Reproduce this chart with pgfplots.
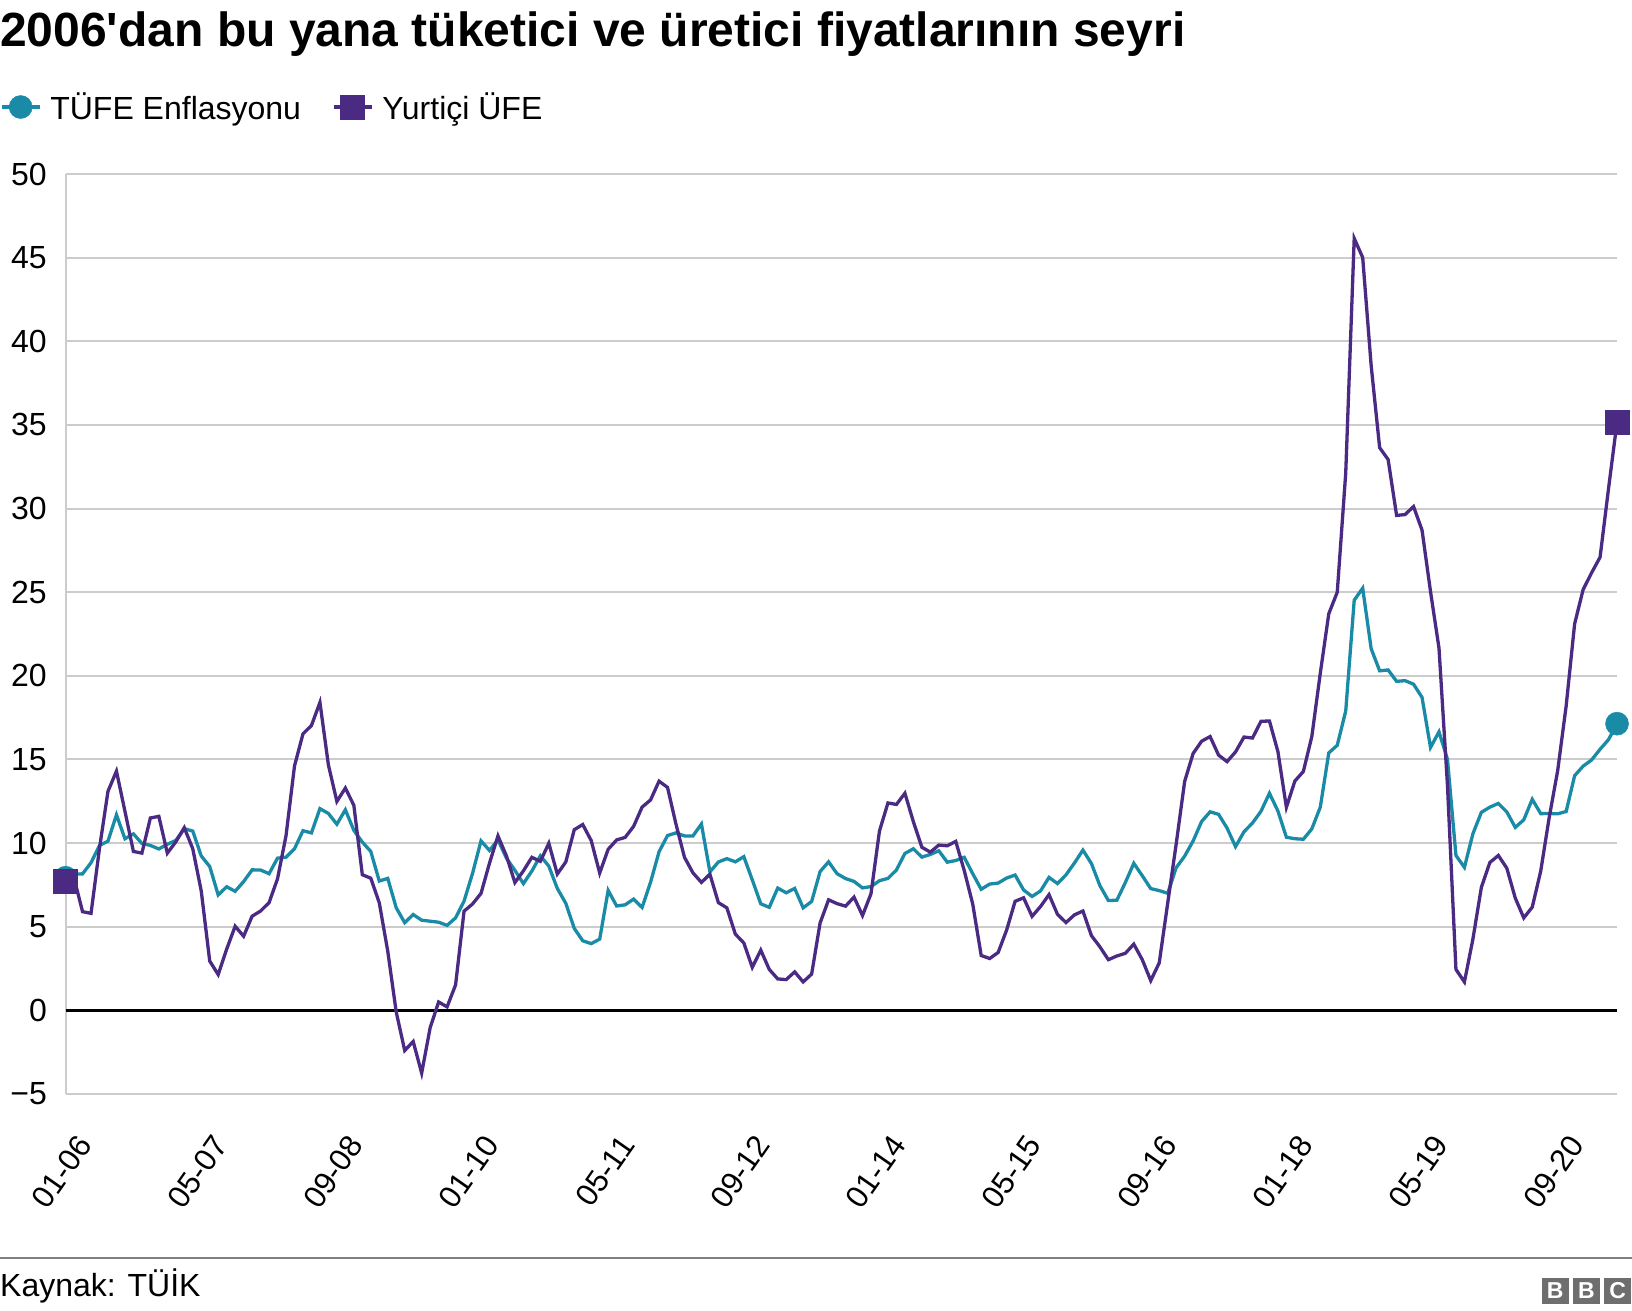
\documentclass[border=0pt]{standalone}
\usepackage{fontspec}
\setmainfont{Liberation Sans}[Ligatures=TeXOff]
\usepackage{pgfplots}
\usepackage{pgfplotstable}
\pgfplotsset{compat=1.18}
\definecolor{tufe}{HTML}{1A8BA6}
\definecolor{ufe}{HTML}{4B2A83}
\definecolor{gridc}{HTML}{CCCCCC}
\definecolor{footc}{HTML}{808080}
\definecolor{bbcg}{HTML}{6E6E6E}
% TUFE annual %, monthly 01-2006 ... 04-2021
\pgfplotstableread[header=false,row sep=\\]{
7.93\\ 8.15\\ 8.16\\ 8.83\\ 9.86\\ 10.12\\ 11.69\\ 10.26\\ 10.55\\ 9.98\\ 9.86\\ 9.65\\
9.93\\ 10.16\\ 10.86\\ 10.72\\ 9.23\\ 8.60\\ 6.90\\ 7.39\\ 7.12\\ 7.70\\ 8.40\\ 8.39\\
8.17\\ 9.10\\ 9.15\\ 9.66\\ 10.74\\ 10.61\\ 12.06\\ 11.77\\ 11.13\\ 11.99\\ 10.76\\ 10.06\\
9.50\\ 7.73\\ 7.89\\ 6.13\\ 5.24\\ 5.73\\ 5.39\\ 5.33\\ 5.27\\ 5.08\\ 5.53\\ 6.53\\
8.19\\ 10.13\\ 9.56\\ 10.19\\ 9.10\\ 8.37\\ 7.58\\ 8.33\\ 9.24\\ 8.62\\ 7.29\\ 6.40\\
4.90\\ 4.16\\ 3.99\\ 4.26\\ 7.17\\ 6.24\\ 6.31\\ 6.65\\ 6.15\\ 7.66\\ 9.48\\ 10.45\\
10.61\\ 10.43\\ 10.43\\ 11.14\\ 8.28\\ 8.87\\ 9.07\\ 8.88\\ 9.19\\ 7.80\\ 6.37\\ 6.16\\
7.31\\ 7.03\\ 7.29\\ 6.13\\ 6.51\\ 8.30\\ 8.88\\ 8.17\\ 7.88\\ 7.71\\ 7.32\\ 7.40\\
7.75\\ 7.89\\ 8.39\\ 9.38\\ 9.66\\ 9.16\\ 9.32\\ 9.54\\ 8.86\\ 8.96\\ 9.15\\ 8.17\\
7.24\\ 7.55\\ 7.61\\ 7.91\\ 8.09\\ 7.20\\ 6.81\\ 7.14\\ 7.95\\ 7.58\\ 8.10\\ 8.81\\
9.58\\ 8.78\\ 7.46\\ 6.57\\ 6.58\\ 7.64\\ 8.79\\ 8.05\\ 7.28\\ 7.16\\ 7.00\\ 8.53\\
9.22\\ 10.13\\ 11.29\\ 11.87\\ 11.72\\ 10.90\\ 9.79\\ 10.68\\ 11.20\\ 11.90\\ 12.98\\ 11.92\\
10.35\\ 10.26\\ 10.23\\ 10.85\\ 12.15\\ 15.39\\ 15.85\\ 17.90\\ 24.52\\ 25.24\\ 21.62\\ 20.30\\
20.35\\ 19.67\\ 19.71\\ 19.50\\ 18.71\\ 15.72\\ 16.65\\ 15.01\\ 9.26\\ 8.55\\ 10.56\\ 11.84\\
12.15\\ 12.37\\ 11.86\\ 10.94\\ 11.39\\ 12.62\\ 11.76\\ 11.77\\ 11.75\\ 11.89\\ 14.03\\ 14.60\\
14.97\\ 15.61\\ 16.19\\ 17.14\\
}\tufedata
% Yurtici UFE annual %
\pgfplotstableread[header=false,row sep=\\]{
7.70\\ 7.90\\ 5.90\\ 5.80\\ 9.70\\ 13.10\\ 14.30\\ 11.90\\ 9.50\\ 9.40\\ 11.50\\ 11.60\\
9.40\\ 10.07\\ 10.92\\ 9.66\\ 7.14\\ 2.95\\ 2.14\\ 3.66\\ 5.03\\ 4.43\\ 5.63\\ 5.94\\
6.44\\ 7.87\\ 10.44\\ 14.61\\ 16.53\\ 17.03\\ 18.41\\ 14.67\\ 12.49\\ 13.29\\ 12.26\\ 8.11\\
7.90\\ 6.43\\ 3.54\\ -0.10\\ -2.40\\ -1.86\\ -3.75\\ -1.04\\ 0.50\\ 0.21\\ 1.52\\ 5.93\\
6.36\\ 6.99\\ 8.80\\ 10.43\\ 9.23\\ 7.64\\ 8.34\\ 9.15\\ 8.91\\ 9.99\\ 8.15\\ 8.87\\
10.80\\ 11.11\\ 10.15\\ 8.21\\ 9.63\\ 10.19\\ 10.34\\ 11.00\\ 12.15\\ 12.58\\ 13.70\\ 13.33\\
11.13\\ 9.15\\ 8.22\\ 7.65\\ 8.14\\ 6.44\\ 6.13\\ 4.56\\ 4.03\\ 2.57\\ 3.60\\ 2.45\\
1.88\\ 1.84\\ 2.30\\ 1.70\\ 2.17\\ 5.23\\ 6.61\\ 6.38\\ 6.23\\ 6.77\\ 5.67\\ 6.97\\
10.72\\ 12.40\\ 12.31\\ 12.98\\ 11.28\\ 9.75\\ 9.46\\ 9.88\\ 9.84\\ 10.10\\ 8.36\\ 6.36\\
3.28\\ 3.10\\ 3.46\\ 4.80\\ 6.52\\ 6.73\\ 5.62\\ 6.21\\ 6.92\\ 5.74\\ 5.25\\ 5.71\\
5.94\\ 4.47\\ 3.80\\ 3.03\\ 3.25\\ 3.41\\ 3.96\\ 3.03\\ 1.78\\ 2.84\\ 6.41\\ 9.94\\
13.69\\ 15.36\\ 16.09\\ 16.37\\ 15.26\\ 14.87\\ 15.45\\ 16.34\\ 16.28\\ 17.28\\ 17.30\\ 15.47\\
12.14\\ 13.71\\ 14.28\\ 16.37\\ 20.16\\ 23.71\\ 25.00\\ 32.13\\ 46.15\\ 45.01\\ 38.54\\ 33.64\\
32.93\\ 29.59\\ 29.64\\ 30.12\\ 28.71\\ 25.04\\ 21.66\\ 13.45\\ 2.45\\ 1.70\\ 4.26\\ 7.36\\
8.84\\ 9.26\\ 8.50\\ 6.71\\ 5.53\\ 6.17\\ 8.33\\ 11.53\\ 14.33\\ 18.20\\ 23.11\\ 25.15\\
26.16\\ 27.09\\ 31.20\\ 35.17\\
}\ufedata
\begin{document}
\begin{tikzpicture}[x=1pt,y=1pt]
\useasboundingbox (0,0) rectangle (1632,1310);
\node[anchor=base west, inner sep=0pt, font=\fontsize{48}{56}\selectfont\bfseries] at (0,1263) {2006'dan bu yana tüketici ve üretici fiyatlarının seyri};
\begin{axis}[
  at={(65.6pt,216pt)}, anchor=south west, scale only axis,
  width=1551.4pt, height=920pt,
  xmin=0, xmax=183, ymin=-5, ymax=50,
  clip=false,
  axis x line*=bottom, axis y line*=left,
  x axis line style={draw=none},
  y axis line style={draw=gridc, line width=2pt},
  ytick={-5,0,...,50},
  yticklabels={−5,0,5,10,15,20,25,30,35,40,45,50},
  xtick={0,16,...,176},
  xticklabels={01-06,05-07,09-08,01-10,05-11,09-12,01-14,05-15,09-16,01-18,05-19,09-20},
  major tick length=0pt,
  ymajorgrids,
  major grid style={draw=gridc, line width=2pt},
  tick label style={font=\fontsize{32}{38}\selectfont},
  yticklabel style={anchor=east, inner sep=0pt, xshift=-18.6pt},
  xticklabel style={font=\fontsize{31}{36}\selectfont, inner sep=0pt, anchor=north east, xshift=10pt, yshift=-39pt, rotate=55},
  legend style={draw=none, fill=none, at={(axis description cs:-0.04228,1.0728)}, anchor=west,
    inner sep=0pt, outer sep=0pt, font=\fontsize{32}{38}\selectfont, nodes={inner sep=0pt}, column sep=0pt},
  legend columns=2,
  legend cell align=left,
  /tikz/every odd column/.append style={column sep=9pt},
  /tikz/every even column/.append style={column sep=31pt},
  legend image code/.code={\draw[#1, mark indices={2}] plot coordinates {(0pt,0pt) (19pt,0pt) (38pt,0pt)};},
]
\addplot[black, line width=3.3pt, forget plot] coordinates {(0,0) (183,0)};
\addplot[tufe, line width=3.3pt, mark=*, mark size=11.5pt, mark indices={1,184}, mark options={solid, line width=0.5pt, fill=tufe}]
  table[x expr=\coordindex, y index=0] {\tufedata};
\addlegendentry{TÜFE Enflasyonu}
\addplot[ufe, line width=3.3pt, mark=square*, mark size=12pt, mark indices={1,184}, mark options={solid, line width=0.5pt, fill=ufe}]
  table[x expr=\coordindex, y index=0] {\ufedata};
\addlegendentry{Yurtiçi ÜFE}
\end{axis}
\draw[footc, line width=2pt] (0,52.4) -- (1632,52.4);
\node[anchor=base west, inner sep=0pt, font=\fontsize{32}{38}\selectfont] at (0,14) {Kaynak: TÜİK};
\foreach \x/\l in {1541.7/B,1572.9/B,1604.2/C} {
  \fill[bbcg] (\x,6) rectangle ++(27.1,26);
  \node[white, inner sep=0pt, font=\fontsize{23}{23}\selectfont\bfseries] at (\x+13.5,19) {\l};
}
\end{tikzpicture}
\end{document}
